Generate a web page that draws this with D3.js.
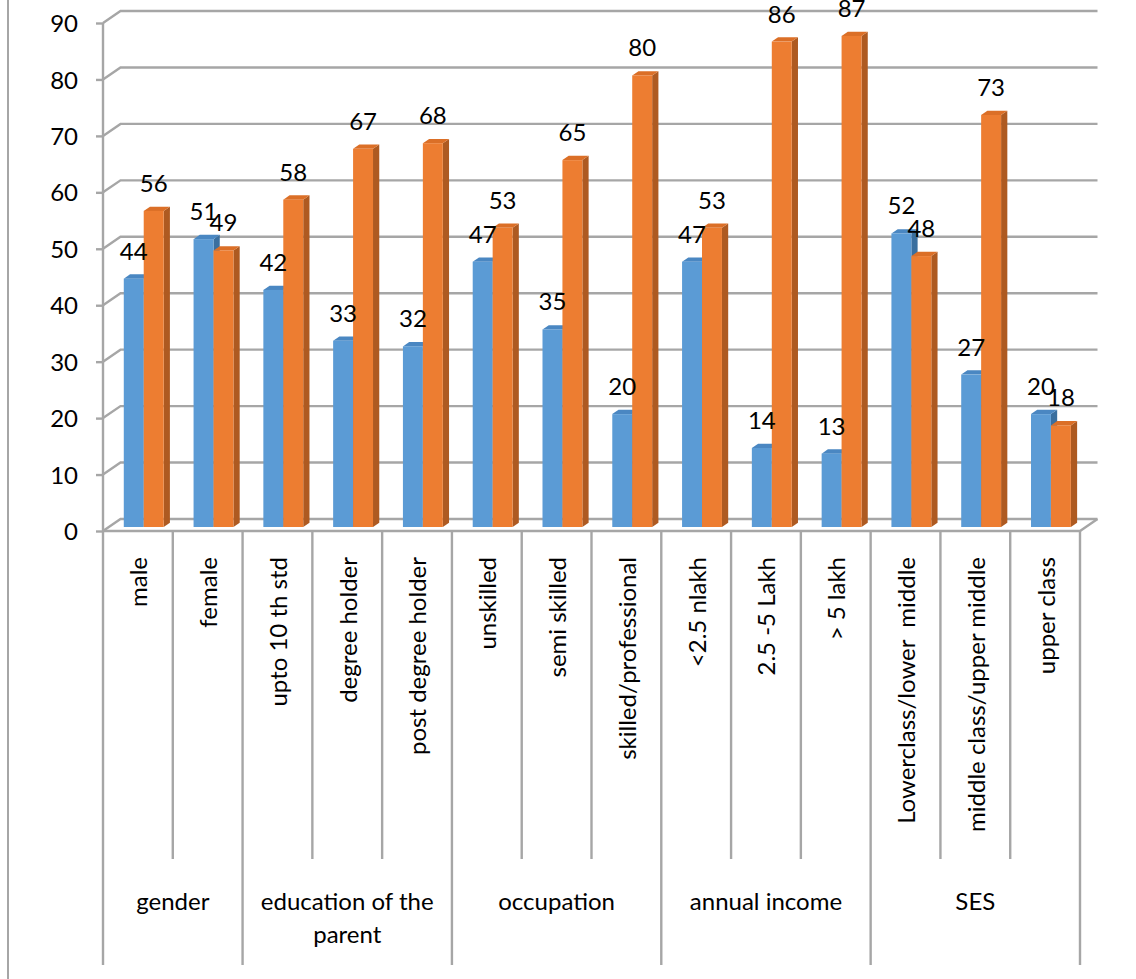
<!DOCTYPE html>
<html>
<head>
<meta charset="utf-8">
<script src="https://cdn.jsdelivr.net/npm/d3@7"></script>
<style>
  html, body { margin: 0; padding: 0; background: #fff; }
  svg { display: block; font-family: Lato, "Liberation Sans", sans-serif; }
</style>
</head>
<body>
<svg id="chart" width="1136" height="979"></svg>
<script>
// Categories along the horizontal axis and the group each belongs to
const categories = ["male", "female", "upto 10 th std", "degree holder", "post degree holder",
  "unskilled", "semi skilled", "skilled/professional", "<2.5 nlakh", "2.5 -5 Lakh", "> 5 lakh",
  "Lowerclass/lower  middle", "middle class/upper middle", "upper class"];
const groupNames = ["gender", "education of the parent", "occupation", "annual income", "SES"];
const groupSizes = [2, 3, 3, 3, 3];

// Two series shown side by side in each category
const seriesNames = ["series1", "series2"];
const series1 = [44, 51, 42, 33, 32, 47, 35, 20, 47, 14, 13, 52, 27, 20];
const series2 = [56, 49, 58, 67, 68, 53, 65, 80, 53, 86, 87, 48, 73, 18];

const yTicks = [0, 10, 20, 30, 40, 50, 60, 70, 80, 90];

(function drawChart() {
  const svg = d3.select("#chart");
  const FONT = 24;

  // Plot frame
  const plotLeft = 103, plotRight = 1080, plotBottom = 531, plotTop = 23;
  const depth = { x: 17.5, y: -12 };     // floor depth vector (front -> back wall)
  const t0 = 0.333, t1 = 0.69;           // bar front/back position within the depth

  const x = d3.scaleBand().domain(categories).range([plotLeft, plotRight]).paddingInner(0).paddingOuter(0);
  const xs = d3.scaleBand().domain(seriesNames).range([0, x.bandwidth()]).paddingInner(0).paddingOuter(0.75);
  const y = d3.scaleLinear().domain([0, 90]).range([plotBottom, plotTop]);

  const gridColor = "#a6a6a6";
  const pts = arr => arr.map(p => p.join(",")).join(" ");

  // Outer left border
  svg.append("line").attr("x1", 8).attr("x2", 8).attr("y1", 0).attr("y2", 979)
    .attr("stroke", "#a6a6a6").attr("stroke-width", 2);

  // Wall and floor gridlines
  const grid = svg.append("g").attr("fill", "none").attr("stroke", gridColor).attr("stroke-width", 2.4);
  yTicks.forEach(v => {
    const yy = y(v);
    grid.append("polyline").attr("points", pts([
      [plotLeft, yy], [plotLeft + depth.x, yy + depth.y], [plotRight + depth.x, yy + depth.y]
    ]));
  });
  // Floor front edge and right edge
  grid.append("polyline").attr("points", pts([
    [plotLeft, y(0)], [plotRight, y(0)], [plotRight + depth.x, y(0) + depth.y]
  ]));

  // Vertical axis
  const yAxis = d3.axisLeft(y).tickValues(yTicks).tickSize(7).tickPadding(18).tickFormat(d3.format("d"));
  const ax = svg.append("g").attr("transform", `translate(${plotLeft},0)`).call(yAxis);
  ax.select(".domain").attr("stroke", gridColor).attr("stroke-width", 2.4).attr("d", `M0,${plotTop}V${plotBottom}`);
  ax.selectAll(".tick line").attr("stroke", gridColor).attr("stroke-width", 2.4);
  ax.selectAll(".tick text").attr("font-size", FONT).attr("font-family", "Lato, sans-serif")
    .attr("fill", "#000").attr("dy", "0.36em");

  // 3D columns
  const colors = {
    series1: { front: "#5b9bd5", top: "#4a87c2", side: "#3a6f9f" },
    series2: { front: "#ed7d31", top: "#db6f27", side: "#ae5a21" }
  };
  const seriesData = { series1, series2 };
  const bars = svg.append("g");
  categories.forEach((c, i) => {
    seriesNames.forEach(s => {
      const v = seriesData[s][i];
      const x0 = x(c) + xs(s), w = xs.bandwidth();
      const fx = x0 + depth.x * t0, fy = y(v) + depth.y * t0, fb = y(0) + depth.y * t0;
      const bx = x0 + depth.x * t1, by = y(v) + depth.y * t1, bb = y(0) + depth.y * t1;
      const col = colors[s];
      bars.append("polygon").attr("fill", col.side)
        .attr("points", pts([[fx + w, fy], [bx + w, by], [bx + w, bb], [fx + w, fb]]));
      bars.append("polygon").attr("fill", col.top)
        .attr("points", pts([[fx, fy], [fx + w, fy], [bx + w, by], [bx, by]]));
      bars.append("rect").attr("fill", col.front)
        .attr("x", fx).attr("y", fy).attr("width", w).attr("height", fb - fy);
    });
  });

  // Value labels
  const labels = svg.append("g").attr("font-size", FONT).attr("fill", "#000").attr("text-anchor", "middle");
  categories.forEach((c, i) => {
    seriesNames.forEach(s => {
      const v = seriesData[s][i];
      const cx = x(c) + xs(s) + depth.x * t0 + xs.bandwidth() / 2;
      const fy = y(v) + depth.y * t0;
      labels.append("text").attr("x", cx).attr("y", fy - 19).text(v);
    });
  });

  // Category axis: dividers and rotated labels
  const catTickBottom = 859, groupTickBottom = 965;
  const dividers = svg.append("g").attr("stroke", gridColor).attr("stroke-width", 2.4);
  const groupStarts = [];
  let acc = 0;
  groupSizes.forEach(n => { groupStarts.push(acc); acc += n; });
  for (let i = 0; i <= categories.length; i++) {
    const xx = i < categories.length ? x(categories[i]) : plotRight;
    const isGroup = i === categories.length || groupStarts.includes(i);
    dividers.append("line").attr("x1", xx).attr("x2", xx).attr("y1", plotBottom)
      .attr("y2", isGroup ? groupTickBottom : catTickBottom);
  }
  const catLabels = svg.append("g").attr("font-size", FONT).attr("fill", "#000");
  categories.forEach(c => {
    const cx = x(c) + x.bandwidth() / 2 + 1;
    catLabels.append("text")
      .attr("transform", `translate(${cx},557) rotate(-90)`)
      .attr("text-anchor", "end").attr("dy", "0.35em")
      .attr("xml:space", "preserve")
      .text(c);
  });

  // Group labels, wrapped to the width of their span
  const groupLabels = svg.append("g").attr("font-size", FONT).attr("fill", "#000").attr("text-anchor", "middle");
  groupNames.forEach((g, gi) => {
    const a = x(categories[groupStarts[gi]]);
    const bIdx = groupStarts[gi] + groupSizes[gi];
    const b = bIdx < categories.length ? x(categories[bIdx]) : plotRight;
    const maxW = (b - a) - 14;
    const cxg = (a + b) / 2;
    const t = groupLabels.append("text").attr("x", cxg).attr("y", 910);
    const words = g.split(" ");
    let line = [];
    let tspan = t.append("tspan").attr("x", cxg).attr("dy", 0);
    words.forEach(wd => {
      line.push(wd);
      tspan.text(line.join(" "));
      if (tspan.node().getComputedTextLength() > maxW && line.length > 1) {
        line.pop();
        tspan.text(line.join(" "));
        line = [wd];
        tspan = t.append("tspan").attr("x", cxg).attr("dy", 33).text(wd);
      }
    });
  });
})();
</script>
</body>
</html>
